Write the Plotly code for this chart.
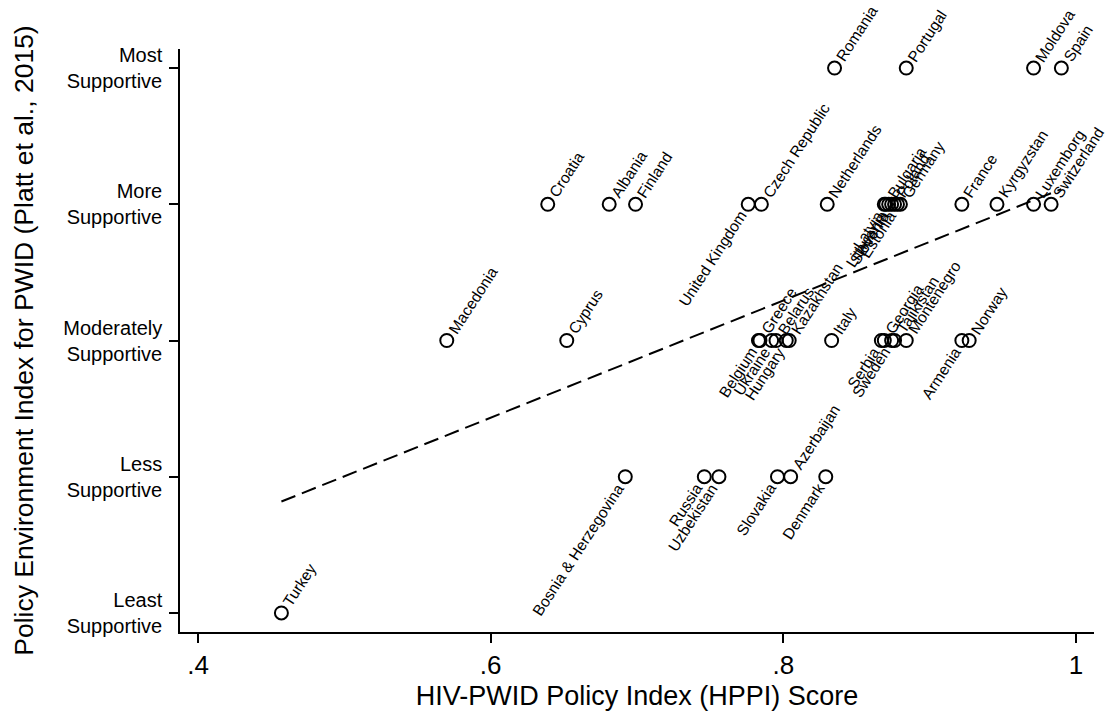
import math
import numpy as np
import plotly.graph_objects as go

# ---- data ----
countries = [
    "Turkey",
    "Bosnia & Herzegovina", "Russia", "Uzbekistan", "Slovakia", "Azerbaijan", "Denmark",
    "Macedonia", "Cyprus", "Belgium", "Greece", "Ukraine", "Belarus", "Hungary", "Kazakhstan",
    "Italy", "Serbia", "Georgia", "Sweden", "Tajikistan", "Montenegro", "Armenia", "Norway",
    "Croatia", "Albania", "Finland", "United Kingdom", "Czech Republic", "Netherlands",
    "Latvia", "Bulgaria", "Lithuania", "Slovenia", "Poland", "Estonia", "Germany",
    "France", "Kyrgyzstan", "Luxemborg", "Switzerland",
    "Romania", "Portugal", "Moldova", "Spain",
]
hppi = [
    0.457,
    0.692, 0.746, 0.756, 0.796, 0.805, 0.829,
    0.570, 0.652, 0.783, 0.784, 0.792, 0.795, 0.802, 0.804,
    0.833, 0.867, 0.869, 0.874, 0.876, 0.884, 0.922, 0.927,
    0.639, 0.681, 0.699, 0.776, 0.785, 0.830,
    0.869, 0.870, 0.872, 0.874, 0.876, 0.878, 0.880,
    0.922, 0.946, 0.971, 0.983,
    0.835, 0.884, 0.971, 0.990,
]
pei = [
    1,
    2, 2, 2, 2, 2, 2,
    3, 3, 3, 3, 3, 3, 3, 3,
    3, 3, 3, 3, 3, 3, 3, 3,
    4, 4, 4, 4, 4, 4,
    4, 4, 4, 4, 4, 4, 4,
    4, 4, 4, 4,
    5, 5, 5, 5,
]
# label side: R = right/up of marker, L = left/down of marker
label_side = [
    "R",
    "L", "L", "L", "L", "R", "L",
    "R", "R", "L", "R", "L", "R", "L", "R",
    "R", "L", "R", "L", "R", "R", "L", "R",
    "R", "R", "R", "L", "R", "R",
    "L", "R", "L", "L", "R", "L", "R",
    "R", "R", "R", "R",
    "R", "R", "R", "R",
]
y_tickvals = [1, 2, 3, 4, 5]
y_ticktext = ["Least<br>Supportive", "Less<br>Supportive", "Moderately<br>Supportive",
              "More<br>Supportive", "Most<br>Supportive"]
x_tickvals = [0.4, 0.6, 0.8, 1.0]
x_ticktext = [".4", ".6", ".8", "1"]

FONT = "Liberation Sans, Arial, sans-serif"
LABEL_SIZE = 15.5
ANGLE = 57.0
GAP = 10.0

# Arial advance widths (per 1000 em) for label width estimation
W = {' ': 278, '&': 667}
W.update(dict(zip("ABCDEFGHIJKLMNOPQRSTUVWXYZ",
                  [667, 667, 722, 722, 667, 611, 778, 722, 278, 500, 667, 556, 833, 722, 778, 667,
                   778, 722, 667, 611, 722, 667, 944, 667, 667, 611])))
W.update(dict(zip("abcdefghijklmnopqrstuvwxyz",
                  [556, 556, 500, 556, 556, 278, 556, 556, 222, 222, 500, 222, 833, 556, 556, 556,
                   556, 333, 500, 278, 556, 500, 722, 500, 500, 500])))


def text_width(s, size):
    return sum(W.get(c, 556) for c in s) * size / 1000.0


fig = go.Figure()

# fitted line
xa = np.array(hppi)
ya = np.array(pei, dtype=float)
slope, intercept = np.polyfit(xa, ya, 1)
xf = np.array([xa.min(), xa.max()])
fig.add_trace(go.Scatter(x=xf, y=intercept + slope * xf, mode="lines",
                         line=dict(color="black", width=2, dash="15px,7px"),
                         hoverinfo="skip", showlegend=False))

fig.add_trace(go.Scatter(x=hppi, y=pei, mode="markers", text=countries,
                         marker=dict(symbol="circle-open", size=13, color="black",
                                     line=dict(width=2, color="black")),
                         showlegend=False))

ca = math.cos(math.radians(ANGLE))
sa = math.sin(math.radians(ANGLE))
for name, xv, yv, side in zip(countries, hppi, pei, label_side):
    d = GAP + text_width(name, LABEL_SIZE) / 2.0
    sgn = 1 if side == "R" else -1
    fig.add_annotation(x=xv, y=yv, text=name, showarrow=False, textangle=-ANGLE,
                       xanchor="center", yanchor="middle",
                       xshift=sgn * d * ca, yshift=sgn * d * sa,
                       font=dict(family=FONT, size=LABEL_SIZE, color="black"))

fig.update_layout(
    width=1108, height=717,
    margin=dict(l=180, r=14, t=49, b=85, autoexpand=False),
    paper_bgcolor="white", plot_bgcolor="white",
    font=dict(family=FONT, color="black"),
    xaxis=dict(range=[0.3877, 1.0123], tickvals=x_tickvals, ticktext=x_ticktext,
               ticks="outside", ticklen=9, tickwidth=1.5, tickcolor="black",
               showline=True, linecolor="black", linewidth=1.5,
               showgrid=False, zeroline=False, automargin=False,
               tickfont=dict(size=26),
               title=dict(text="HIV-PWID Policy Index (HPPI) Score", font=dict(size=27),
                          standoff=7)),
    yaxis=dict(range=[0.86, 5.14], tickvals=y_tickvals, ticktext=y_ticktext,
               ticks="outside", ticklen=9, tickwidth=1.5, tickcolor="black",
               showline=True, linecolor="black", linewidth=1.5,
               showgrid=False, zeroline=False, automargin=False,
               tickfont=dict(size=20), ticklabelstandoff=3,
               title=dict(text="Policy Environment Index for PWID (Platt et al., 2015)",
                          font=dict(size=26.5), standoff=22)),
)

fig.write_html("out.html", config={"displayModeBar": False},
               post_script="document.body.style.margin='0';document.body.style.overflow='hidden';")
